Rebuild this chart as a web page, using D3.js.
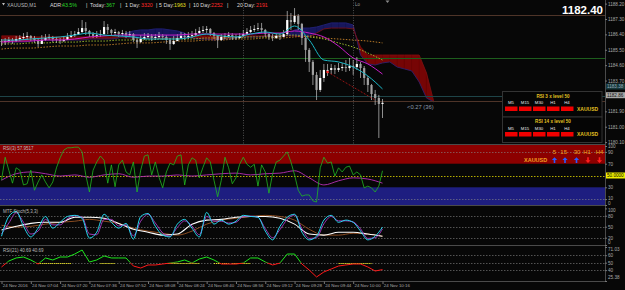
<!DOCTYPE html>
<html>
<head>
<meta charset="utf-8">
<script src="https://cdn.jsdelivr.net/npm/d3@7"></script>
<style>
  body { margin: 0; background: #000; overflow: hidden; }
  svg { display: block; font-family: 'Liberation Sans', Arial, sans-serif; }
</style>
</head>
<body>
<script>
const w = 625
const h = 290
const right = 605

// 2-minute bars from 24 Nov 06:48
const close = [1185.95,1186.01,1186.07,1186.01,1186.13,1186.19,1186.25,1186.31,1186.19,1186.07,
  1185.84,1186.07,1186.19,1186.25,1186.13,1186.07,1186.01,1186.07,1186.25,1186.36,
  1186.42,1186.54,1186.77,1186.60,1186.42,1186.31,1186.36,1186.42,1186.83,1186.66,
  1186.48,1186.54,1186.42,1186.48,1186.36,1186.42,1186.07,1185.95,1186.13,1186.25,
  1186.31,1186.19,1186.25,1186.31,1186.25,1186.07,1185.84,1186.01,1186.19,1186.31,
  1186.25,1186.31,1186.36,1186.48,1186.60,1186.66,1186.72,1186.48,1186.31,1186.07,
  1186.25,1186.31,1186.36,1186.25,1186.19,1186.31,1186.42,1186.54,1186.66,1186.72,
  1186.77,1186.66,1186.42,1186.25,1186.19,1186.31,1186.25,1186.42,1187.24,1187.12,
  1187.48,1187.01,1186.19,1185.49,1184.79,1184.03,1183.15,1183.85,1184.32,1184.32,
  1184.43,1184.32,1184.43,1184.49,1184.43,1184.55,1184.49,1184.67,1184.43,1183.85,
  1183.44,1182.91,1182.68,1182.33,1182.40]
const high = [1186.13,1186.19,1186.25,1186.19,1186.31,1186.36,1186.48,1186.54,1186.36,1186.31,
  1186.19,1186.36,1186.42,1186.42,1186.31,1186.25,1186.19,1186.31,1186.48,1186.60,
  1186.60,1186.77,1187.24,1187.12,1186.66,1186.54,1186.60,1186.66,1187.18,1187.01,
  1186.72,1186.72,1186.60,1186.66,1186.60,1186.60,1186.48,1186.25,1186.36,1186.48,
  1186.48,1186.42,1186.42,1186.54,1186.42,1186.36,1186.19,1186.31,1186.42,1186.54,
  1186.48,1186.54,1186.60,1186.72,1186.83,1186.89,1186.89,1186.77,1186.54,1186.36,
  1186.42,1186.48,1186.54,1186.48,1186.42,1186.48,1186.66,1186.77,1186.89,1186.95,
  1187.07,1187.07,1186.72,1186.48,1186.42,1186.48,1186.48,1186.66,1187.77,1187.65,
  1187.94,1187.59,1187.07,1186.25,1185.60,1184.90,1184.20,1184.32,1184.67,1184.67,
  1184.67,1184.61,1184.73,1184.73,1184.90,1185.02,1184.90,1185.08,1184.79,1184.55,
  1183.97,1183.50,1183.15,1182.86,1182.62]
const low = [1185.72,1185.78,1185.90,1185.84,1185.95,1186.01,1186.07,1186.07,1186.01,1185.90,
  1185.66,1185.84,1186.01,1186.07,1185.95,1185.90,1185.84,1185.95,1186.07,1186.19,
  1186.25,1186.36,1186.48,1186.36,1186.25,1186.19,1186.19,1186.25,1186.36,1186.42,
  1186.31,1186.36,1186.25,1186.31,1186.19,1186.25,1185.95,1185.60,1185.90,1186.07,
  1186.13,1186.01,1186.07,1186.13,1186.07,1185.84,1185.49,1185.78,1186.01,1186.13,
  1186.07,1186.13,1186.19,1186.31,1186.42,1186.48,1186.48,1186.31,1186.13,1185.60,
  1186.01,1186.13,1186.19,1186.07,1186.07,1186.13,1186.25,1186.36,1186.48,1186.54,
  1186.60,1186.48,1186.25,1186.07,1186.01,1186.13,1186.07,1186.25,1186.36,1186.66,
  1187.01,1186.66,1185.78,1184.79,1184.20,1183.44,1182.56,1183.03,1183.62,1183.97,
  1184.08,1184.08,1184.20,1184.26,1184.20,1184.26,1184.03,1184.32,1183.85,1183.44,
  1183.03,1182.56,1182.27,1180.34,1181.51]

// moving averages, one value every 4 bars
const maFast = [1186.07,1186.07,1186.13,1186.19,1186.25,1186.36,1186.48,1186.36,1186.31,1186.25,1186.13,1186.13,1186.13,1186.25,1186.42,1186.31,1186.25,1186.42,1186.54,1186.42,1186.89,1186.07,1184.90,1184.79,1184.49,1183.97,1183.21]
const maSlow = [1185.95,1186.01,1186.01,1186.07,1186.07,1186.13,1186.25,1186.31,1186.36,1186.36,1186.36,1186.36,1186.36,1186.42,1186.42,1186.42,1186.42,1186.42,1186.48,1186.48,1186.60,1186.48,1186.25,1185.72,1185.02,1184.67,1184.08]
const maGreen = [1185.84,1185.84,1185.90,1185.90,1185.95,1185.95,1186.01,1186.01,1186.07,1186.07,1186.07,1186.13,1186.13,1186.13,1186.19,1186.19,1186.19,1186.25,1186.25,1186.31,1186.36,1186.25,1186.13,1185.90,1185.66,1185.31,1184.90]
const maOrange = [1185.54,1185.60,1185.60,1185.66,1185.72,1185.72,1185.78,1185.78,1185.84,1185.90,1185.90,1185.95,1186.01,1186.01,1186.07,1186.07,1186.13,1186.13,1186.19,1186.19,1186.25,1186.31,1186.19,1186.13,1186.07,1186.01,1185.90]

// ichimoku spans, one value every 2 bars (runs past the last bar)
const spanA = [1185.90,1185.90,1185.95,1185.95,1186.01,
  1186.07,1186.07,1186.07,1186.07,1186.07,1186.07,1186.07,1186.13,1186.13,1186.13,1186.13,1186.19,
  1186.48,1186.60,1186.66,1186.66,1186.72,1186.72,1186.66,1186.60,1186.48,
  1186.19,1186.13,1186.13,1186.07,1186.13,1186.13,1186.19,
  1186.25,1186.25,1186.25,1186.31,1186.31,1186.31,1186.36,
  1186.66,1186.77,1186.77,1186.83,1186.95,1187.07,1187.07,1187.07,1186.95,
  1185.19,1184.67,1184.61,1184.73,1184.79,1184.49,1184.38,1184.26,1183.62,1182.68,1182.45]
const spanB = [1186.31,1186.31,1186.31,1186.25,1186.25,
  1186.25,1186.25,1186.25,1186.25,1186.25,1186.25,1186.25,1186.25,1186.25,1186.25,1186.25,1186.25,
  1186.19,1186.19,1186.19,1186.19,1186.19,1186.19,1186.19,1186.19,1186.19,
  1186.31,1186.31,1186.31,1186.31,1186.31,1186.25,1186.25,
  1186.31,1186.31,1186.31,1186.31,1186.31,1186.31,1186.31,
  1186.31,1186.25,1186.25,1186.48,1186.72,1186.77,1186.77,1186.77,1186.72,
  1185.66,1185.19,1185.19,1185.19,1185.19,1185.19,1185.19,1185.19,1185.19,1184.14,1182.45]

const levels = [1187.53, 1185.02, 1182.80, 1182.50]
const trendBars = [89, 102]
const trendPrices = [1184.20, 1182.56]
const priceTicks = [1188.20, 1187.30, 1186.40, 1185.50, 1184.60, 1183.70, 1181.90, 1181.00, 1180.10]

// RSI(3) every bar, its average every 4 bars
const rsi3 = [42,81,59,37,63,59,34,36,59,25,
  39,51,39,29,39,63,80,93,97,97,
  98,98,90,51,22,59,73,83,76,37,
  68,31,68,76,56,51,73,22,59,83,
  85,51,73,47,29,56,71,68,83,85,
  34,68,80,76,46,64,80,73,42,14,
  42,81,63,36,46,69,81,69,64,69,
  32,68,56,20,53,73,76,83,90,73,
  51,25,15,17,17,7,5,63,81,71,
  73,49,63,56,64,66,51,56,51,29,
  32,29,22,32,58]
const rsi3Ma = [42,53,56,53,49,51,47,51,53,47,49,49,51,49,51,53,54,51,53,54,58,46,34,41,46,44,37]

// stochastic: main and signal every 2 bars, slow pair every 4 bars
const stochMain = [24,78,92,51,22,46,78,46,62,78,81,73,19,35,84,62,46,59,16,78,86,51,27,22,57,70,46,22,89,57,68,57,65,81,78,76,38,14,51,76,84,35,14,24,68,81,62,68,62,38,14,24,49]
const stochSignal = [30,60,88,62,30,38,70,55,55,72,80,76,30,28,70,70,52,55,25,65,84,60,33,24,48,66,52,28,78,65,65,60,62,78,79,76,45,20,42,70,82,45,18,20,58,78,66,66,63,44,18,20,44]
const stochWhite = [41,51,59,62,62,76,76,73,59,43,35,27,30,57,68,70,76,78,78,73,57,30,27,35,35,30,24]
const stochBrown = [54,49,51,57,62,65,70,65,59,46,38,32,27,38,57,68,73,78,81,78,68,43,27,27,32,30,24]

// RSI(21) every 2 bars, highlighted stretches at 50 (bar ranges)
const rsi21 = [44.2,52.2,56.3,57.6,53.6,48.2,56.3,53.6,57.6,57.6,61.6,67.0,50.9,53.6,59.0,56.3,56.3,56.3,45.5,42.8,46.9,46.9,48.2,49.5,50.9,53.6,49.5,54.9,57.6,53.6,48.2,48.2,48.2,49.5,56.3,56.3,50.9,46.9,49.5,61.6,61.6,48.2,40.1,30.8,37.5,41.5,45.5,46.9,48.2,48.2,44.2,38.8,40.69]
const rsi21Marks = [[10,19],[27,31],[45,54],[58,62],[63,68],[92,101]]

const statLabels = ['Today:', '1 Day:', '5 Day:', '10 Day:', '20 Day:']
const statValues = ['367', '3320', '1963', '2252', '2191']
const tfNames = ['M5', 'M15', 'M30', 'H1', 'H4']
const arrowNames = ['5', '15', '30', 'H1', 'H4']
const arrowDir = [1, 1, 1, -1, -1]

const t0 = new Date(2016, 10, 24, 6, 48)
const barTime = i => new Date(t0.getTime() + i * 120000)
const x = d3.scaleTime().domain([t0, barTime(104)]).range([1.5, 382.5])
const yPrice = d3.scaleLinear().domain([1180.10, 1187.30]).range([142.1, 19])
const yRsi3 = d3.scaleLinear().domain([0, 100]).range([205, 146])
const ySto = d3.scaleLinear().domain([0, 100]).range([245, 208.4])
const yRsi21 = d3.scaleLinear().domain([25.38, 71.03]).range([281, 247])
const snap = v => Math.round(v) + 0.5

const svg = d3.select('body').append('svg').attr('width', w).attr('height', h)
svg.append('rect').attr('width', w).attr('height', h).attr('fill', '#070707')

const defs = svg.append('defs')
function clip(id, y0, y1) {
  defs.append('clipPath').attr('id', id).append('rect')
    .attr('x', 0).attr('y', y0).attr('width', right).attr('height', y1 - y0)
}
clip('c-main', 0, 144); clip('c-rsi3', 145, 205.5); clip('c-sto', 206, 245.5); clip('c-rsi21', 246, 281.5)
clip('c-up', 246, yRsi21(50)); clip('c-dn', yRsi21(50), 281.5)

// ---------- main panel
const main = svg.append('g').attr('clip-path', 'url(#c-main)')

const cloudColor = j => spanA[j] + spanA[j + 1] > spanB[j] + spanB[j + 1] ? '#17175c' : '#760505'
main.selectAll('path.cloud').data(d3.range(spanA.length - 1)).enter().append('path')
  .attr('d', j => {
    const x0 = x(barTime(2 * j)), x1 = x(barTime(2 * j + 2))
    return `M${x0},${yPrice(spanA[j])}L${x1},${yPrice(spanA[j + 1])}L${x1},${yPrice(spanB[j + 1])}L${x0},${yPrice(spanB[j])}Z`
  })
  .attr('fill', cloudColor).attr('stroke', cloudColor).attr('stroke-width', 0.4)
const spanLine = d3.line().x((d, j) => x(barTime(2 * j))).y(d => yPrice(d))
main.append('path').attr('d', spanLine(spanA)).attr('fill', 'none').attr('stroke', '#23237a').attr('stroke-width', 0.8)
main.append('path').attr('d', spanLine(spanB)).attr('fill', 'none').attr('stroke', '#7c1010').attr('stroke-width', 0.8)

const levelColors = ['#4e3428', '#1d5e1d', '#1e4448', '#4e3428']
main.selectAll('line.level').data(levels).enter().append('line')
  .attr('x1', 0).attr('x2', right)
  .attr('y1', d => snap(yPrice(d))).attr('y2', d => snap(yPrice(d)))
  .attr('stroke', (d, i) => levelColors[i]).attr('stroke-width', 1)

const sessions = [new Date(2016, 10, 24, 9, 0), new Date(2016, 10, 24, 10, 0)]
main.selectAll('line.sess').data(sessions).enter().append('line')
  .attr('x1', d => snap(x(d))).attr('x2', d => snap(x(d)))
  .attr('y1', 0).attr('y2', 144)
  .attr('stroke', '#6a6a6a').attr('stroke-width', 0.7).attr('stroke-dasharray', '1,1.5')

const maLine = d3.line().x((d, k) => x(barTime(4 * k))).y(d => yPrice(d)).curve(d3.curveMonotoneX)
main.append('path').attr('d', maLine(maOrange)).attr('fill', 'none').attr('stroke', '#c9852a').attr('stroke-width', 0.9).attr('stroke-dasharray', '1.5,1.5')
main.append('path').attr('d', maLine(maGreen)).attr('fill', 'none').attr('stroke', '#a6c832').attr('stroke-width', 0.9).attr('stroke-dasharray', '1.5,1.5')

const open = close.map((c, i) => i ? close[i - 1] : 1186.01)
const bars = main.selectAll('g.bar').data(close).enter().append('g')
bars.append('line')
  .attr('x1', (d, i) => x(barTime(i))).attr('x2', (d, i) => x(barTime(i)))
  .attr('y1', (d, i) => yPrice(high[i])).attr('y2', (d, i) => yPrice(low[i]))
  .attr('stroke', '#c8c8c8').attr('stroke-width', 0.7)
bars.append('rect')
  .attr('x', (d, i) => x(barTime(i)) - 1.1).attr('width', 2.2)
  .attr('y', (d, i) => yPrice(Math.max(open[i], d)))
  .attr('height', (d, i) => Math.max(0.8, Math.abs(yPrice(open[i]) - yPrice(d))))
  .attr('fill', (d, i) => d >= open[i] ? '#ffffff' : '#a0a0a0')

main.append('path').attr('d', maLine(maSlow)).attr('fill', 'none').attr('stroke', '#c81ec8').attr('stroke-width', 1)
main.append('path').attr('d', maLine(maFast)).attr('fill', 'none').attr('stroke', '#1ab8c8').attr('stroke-width', 1)

main.append('line')
  .attr('x1', x(barTime(trendBars[0]))).attr('y1', yPrice(trendPrices[0]))
  .attr('x2', x(barTime(trendBars[1]))).attr('y2', yPrice(trendPrices[1]))
  .attr('stroke', '#a81414').attr('stroke-width', 0.9).attr('stroke-dasharray', '2,1.5')
main.append('circle').attr('cx', x(barTime(trendBars[0]))).attr('cy', yPrice(trendPrices[0])).attr('r', 1.3).attr('fill', '#ff2a2a')

// header
svg.append('path').attr('d', 'M2,3L5,3L3.5,5.5Z').attr('fill', '#bbb')
svg.append('text').attr('x', 7).attr('y', 6.5).attr('font-size', 5).attr('fill', '#bbb').text('XAUUSD,M1')
const hdr = svg.append('g').attr('font-size', 5.3)
hdr.append('text').attr('x', 50).attr('y', 6.8).attr('fill', '#ddd').text('ADR:')
hdr.append('text').attr('x', 62).attr('y', 6.8).attr('fill', '#27d827').text('43.5%')
const statX = [[86, 90, 106], [120, 125, 141], [156, 159, 174], [189, 193, 211], [227, 237, 256]]
const statColor = ['#27d827', '#ff2a2a', '#e8e020', '#ff2a2a', '#ff2a2a']
statLabels.forEach((lab, i) => {
  hdr.append('text').attr('x', statX[i][0]).attr('y', 6.8).attr('fill', '#ddd').text('|')
  hdr.append('text').attr('x', statX[i][1]).attr('y', 6.8).attr('fill', '#ddd').text(lab)
  hdr.append('text').attr('x', statX[i][2]).attr('y', 6.8).attr('fill', statColor[i]).text(statValues[i])
})
svg.append('text').attr('x', 603).attr('y', 14).attr('text-anchor', 'end')
  .attr('font-size', 11.5).attr('font-weight', 'bold').attr('fill', '#fff').text(close[close.length - 1].toFixed(2))
svg.append('text').attr('x', 355).attr('y', 6).attr('font-size', 4.5).attr('fill', '#999').text('Lo')
svg.append('path').attr('d', 'M385.5,0.5L389.5,0.5L387.5,3Z').attr('fill', '#888')
svg.append('text').attr('x', 407).attr('y', 108.5).attr('font-size', 5.8).attr('fill', '#8d9cab').text('<0.27 (36)')

// RSI signal boxes
const boxTitles = ['RSI 3 x level 50', 'RSI 14 x level 50']
boxTitles.forEach((t, b) => {
  const y0 = 91.5 + b * 25.5
  const g = svg.append('g')
  g.append('rect').attr('x', 502.5).attr('y', y0).attr('width', 99.5).attr('height', 25.5)
    .attr('fill', '#050505').attr('stroke', '#333').attr('stroke-width', 1)
  g.append('text').attr('x', 553).attr('y', y0 + 6.3).attr('text-anchor', 'middle')
    .attr('font-size', 4.6).attr('font-weight', 'bold').attr('fill', '#e0c020').text(t)
  tfNames.forEach((n, i) => {
    const cx = 511 + i * 14
    g.append('text').attr('x', cx).attr('y', y0 + 12.5).attr('text-anchor', 'middle')
      .attr('font-size', 4.3).attr('fill', '#e8e8e8').text(n)
    g.append('rect').attr('x', cx - 6).attr('y', y0 + 15).attr('width', 12.5).attr('height', 4.5).attr('fill', '#f00000')
  })
  g.append('text').attr('x', 577).attr('y', y0 + 19.3).attr('font-size', 5)
    .attr('font-weight', 'bold').attr('fill', '#e0c020').text('XAUUSD')
})

// ---------- RSI(3) panel
const p2 = svg.append('g').attr('clip-path', 'url(#c-rsi3)')
p2.append('rect').attr('x', 0).attr('y', 145).attr('width', right).attr('height', yRsi3(70) - 145).attr('fill', '#8c0000')
p2.append('rect').attr('x', 0).attr('y', yRsi3(30)).attr('width', right).attr('height', 205.5 - yRsi3(30)).attr('fill', '#1e1e80')
p2.selectAll('line.ref').data([90, 10]).enter().append('line')
  .attr('x1', 0).attr('x2', right).attr('y1', d => snap(yRsi3(d))).attr('y2', d => snap(yRsi3(d)))
  .attr('stroke', '#888').attr('stroke-width', 0.6).attr('stroke-dasharray', '1.5,1.5')
p2.append('line').attr('x1', 0).attr('x2', right).attr('y1', snap(yRsi3(50))).attr('y2', snap(yRsi3(50)))
  .attr('stroke', '#c8c000').attr('stroke-width', 0.9).attr('stroke-dasharray', '1.5,1.5')
p2.append('path').attr('d', d3.line().x((d, k) => x(barTime(4 * k))).y(d => yRsi3(d)).curve(d3.curveMonotoneX)(rsi3Ma))
  .attr('fill', 'none').attr('stroke', '#b830b8').attr('stroke-width', 0.9)
p2.append('path').attr('d', d3.line().x((d, i) => x(barTime(i))).y(d => yRsi3(d))(rsi3))
  .attr('fill', 'none').attr('stroke', '#22b822').attr('stroke-width', 0.8)
svg.append('text').attr('x', 3).attr('y', 150).attr('font-size', 4.5).attr('fill', '#bbb').text('RSI(3) 57.9517')
svg.append('text').attr('x', 524).attr('y', 161.5).attr('font-size', 5.5).attr('font-weight', 'bold').attr('fill', '#f0a020').text('XAUUSD')
const arrowX = [554.5, 565, 576.5, 588, 599.5]
const nameX = [554.5, 563.7, 577, 587, 599.5]
arrowNames.forEach((n, i) => {
  svg.append('text').attr('x', nameX[i]).attr('y', 154).attr('text-anchor', 'middle')
    .attr('font-size', 6).attr('fill', '#f0a020').text(n)
  const ax = arrowX[i], up = arrowDir[i] > 0
  const d = up
    ? `M${ax},157.2L${ax + 2.6},160L${ax + 0.8},160L${ax + 0.8},163L${ax - 0.8},163L${ax - 0.8},160L${ax - 2.6},160Z`
    : `M${ax},163L${ax + 2.6},160.2L${ax + 0.8},160.2L${ax + 0.8},157.2L${ax - 0.8},157.2L${ax - 0.8},160.2L${ax - 2.6},160.2Z`
  svg.append('path').attr('d', d).attr('fill', up ? '#2a5cff' : '#ff1e1e')
})

// ---------- stochastic panel
const p3 = svg.append('g').attr('clip-path', 'url(#c-sto)')
p3.selectAll('line.ref').data([80, 50, 20]).enter().append('line')
  .attr('x1', 0).attr('x2', right).attr('y1', d => snap(ySto(d))).attr('y2', d => snap(ySto(d)))
  .attr('stroke', '#888').attr('stroke-width', 0.6).attr('stroke-dasharray', '1.5,1.5')
const stoSlow = d3.line().x((d, k) => x(barTime(4 * k))).y(d => ySto(d)).curve(d3.curveMonotoneX)
const stoFast = d3.line().x((d, j) => x(barTime(2 * j))).y(d => ySto(d)).curve(d3.curveMonotoneX)
p3.append('path').attr('d', stoSlow(stochBrown)).attr('fill', 'none').attr('stroke', '#9a5424').attr('stroke-width', 0.9)
p3.append('path').attr('d', stoSlow(stochWhite)).attr('fill', 'none').attr('stroke', '#ffffff').attr('stroke-width', 1.1)
p3.append('path').attr('d', stoFast(stochSignal)).attr('fill', 'none').attr('stroke', '#a038b8').attr('stroke-width', 1)
p3.append('path').attr('d', stoFast(stochMain)).attr('fill', 'none').attr('stroke', '#28d8f0').attr('stroke-width', 1)
svg.append('text').attr('x', 3).attr('y', 212.5).attr('font-size', 4.5).attr('fill', '#bbb').text('MTF Stoch(5,3,3)')

// ---------- RSI(21) panel
const p4 = svg.append('g').attr('clip-path', 'url(#c-rsi21)')
p4.selectAll('line.ref').data([60, 50, 40]).enter().append('line')
  .attr('x1', 0).attr('x2', right).attr('y1', d => snap(yRsi21(d))).attr('y2', d => snap(yRsi21(d)))
  .attr('stroke', '#888').attr('stroke-width', 0.6).attr('stroke-dasharray', '1.5,1.5')
p4.selectAll('line.mark').data(rsi21Marks).enter().append('line')
  .attr('x1', d => x(barTime(d[0]))).attr('x2', d => x(barTime(d[1])))
  .attr('y1', snap(yRsi21(50))).attr('y2', snap(yRsi21(50)))
  .attr('stroke', '#e8e020').attr('stroke-width', 1.2).attr('stroke-dasharray', '1.2,0.8')
const rsi21Line = d3.line().x((d, j) => x(barTime(2 * j))).y(d => yRsi21(d))
p4.append('path').attr('clip-path', 'url(#c-up)').attr('d', rsi21Line(rsi21)).attr('fill', 'none').attr('stroke', '#1ee81e').attr('stroke-width', 1)
p4.append('path').attr('clip-path', 'url(#c-dn)').attr('d', rsi21Line(rsi21)).attr('fill', 'none').attr('stroke', '#ff1a1a').attr('stroke-width', 1)
svg.append('text').attr('x', 3).attr('y', 251.5).attr('font-size', 4.5).attr('fill', '#bbb').text('RSI(21) 40.69 40.69')

// ---------- frame and axes
svg.selectAll('line.sep').data([144.5, 205.5, 245.5, 281.5]).enter().append('line')
  .attr('x1', 0).attr('x2', right).attr('y1', d => d).attr('y2', d => d)
  .attr('stroke', '#4a4a4a').attr('stroke-width', 1)
svg.append('line').attr('x1', right + 0.5).attr('x2', right + 0.5).attr('y1', 0).attr('y2', 282)
  .attr('stroke', '#4a4a4a').attr('stroke-width', 1)

// nudge: label shifts so crowded labels do not sit on each other
function rAxis(scale, ticks, fmt, nudge = {}) {
  svg.append('g').attr('transform', `translate(${right},0)`)
    .call(d3.axisRight(scale).tickValues(ticks).tickFormat(fmt).tickSize(2).tickPadding(1))
    .call(g => {
      g.attr('font-family', null).attr('font-size', 4.6)
      g.select('.domain').remove()
      g.selectAll('line').attr('stroke', '#777')
      g.selectAll('text').attr('fill', '#aaa').attr('y', d => nudge[d] || 0)
    })
}
rAxis(yPrice, priceTicks, d3.format('.2f'))
rAxis(yRsi3, [100, 90, 70, 30, 10, 0], d3.format('d'), { 100: 0.5, 10: -1.3, 0: -1.7 })
rAxis(ySto, [100, 80, 50, 20, 0], d3.format('d'), { 100: 1.8, 0: -2.6 })
rAxis(yRsi21, [71.03, 60, 50, 40, 25.38], d => Number.isInteger(d) ? d : d.toFixed(2), { 71.03: 2.3, 25.38: -3.5 })

function tag(y, txt, bg, fg) {
  svg.append('rect').attr('x', right + 1).attr('y', y - 3).attr('width', 19).attr('height', 6).attr('fill', bg)
  svg.append('text').attr('x', right + 2).attr('y', y + 1.7).attr('font-size', 4.6).attr('fill', fg).text(txt)
}
tag(86.5, '1183.38', '#17393b', '#9ab')
tag(95.2, '1182.86', '#a8a8a8', '#111')
tag(yRsi3(50), '50.0000', '#f0f000', '#000')

const tickTimes = d3.range(14).map(k => new Date(t0.getTime() + k * 16 * 60000))
const tfmt = d3.timeFormat('%d %b %H:%M')
svg.append('g').attr('transform', 'translate(0,281.5)')
  .call(d3.axisBottom(x).tickValues(tickTimes).tickFormat((d, i) => i ? tfmt(d) : '24 Nov 2016').tickSize(2.5).tickPadding(1))
  .call(g => {
    g.attr('font-family', null).attr('font-size', 4.4).attr('text-anchor', 'start')
    g.select('.domain').remove()
    g.selectAll('line').attr('stroke', '#777')
    g.selectAll('text').attr('fill', '#aaa').attr('x', 0.8).attr('dy', '0.5em')
  })
</script>
</body>
</html>
